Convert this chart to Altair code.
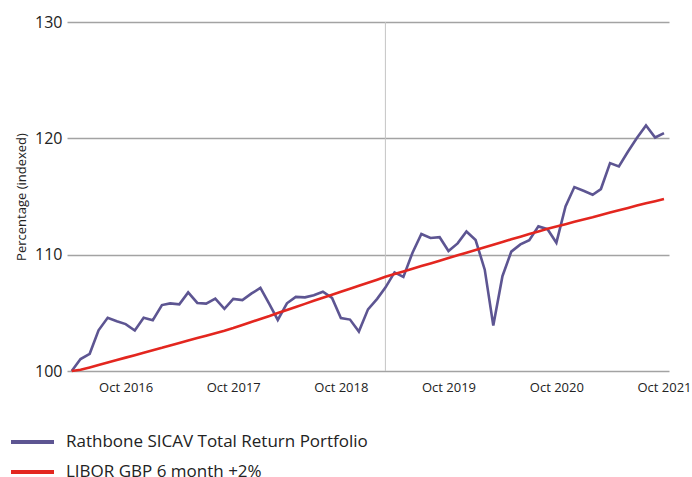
import altair as alt
import pandas as pd

# Monthly dates, Apr 2016 .. Oct 2021
months = pd.date_range("2016-04-01", "2021-10-01", freq="MS").strftime("%Y-%m-%d").tolist()

rathbone = [
    100.00, 101.03, 101.48, 103.50, 104.57, 104.27, 104.03, 103.48, 104.57, 104.36,
    105.67, 105.81, 105.73, 106.76, 105.85, 105.79, 106.22, 105.34, 106.20, 106.09,
    106.65, 107.14, 105.73, 104.39, 105.82, 106.37, 106.33, 106.52, 106.82, 106.28,
    104.55, 104.42, 103.39, 105.30, 106.20, 107.17, 108.48, 108.09, 110.17, 111.78,
    111.43, 111.50, 110.32, 110.97, 111.99, 111.26, 108.71, 103.91, 108.15, 110.26,
    110.88, 111.24, 112.43, 112.19, 111.03, 114.15, 115.81, 115.49, 115.15, 115.64,
    117.87, 117.58, 118.87, 120.02, 121.10, 120.07, 120.45,
]

libor = [
    100.00, 100.10, 100.31, 100.52, 100.73, 100.94, 101.15, 101.36, 101.57, 101.78,
    101.99, 102.20, 102.41, 102.62, 102.83, 103.04, 103.25, 103.46, 103.69, 103.95,
    104.21, 104.47, 104.73, 104.99, 105.25, 105.51, 105.77, 106.03, 106.29, 106.55,
    106.81, 107.07, 107.33, 107.59, 107.85, 108.10, 108.33, 108.56, 108.79, 109.02,
    109.25, 109.48, 109.71, 109.94, 110.17, 110.40, 110.63, 110.86, 111.09, 111.32,
    111.55, 111.78, 112.00, 112.22, 112.42, 112.62, 112.82, 113.02, 113.22, 113.42,
    113.62, 113.82, 114.02, 114.22, 114.42, 114.60, 114.78,
]

series_names = ["Rathbone SICAV Total Return Portfolio", "LIBOR GBP 6 month +2%"]
series_colors = ["#5d5592", "#e3261f"]
marker_dates = ["2019-03-01"]
y_ticks = [100, 110, 120, 130]
x_tick_years = [2016, 2017, 2018, 2019, 2020, 2021]

df = pd.DataFrame({
    "date": months * 2,
    "series": [series_names[0]] * len(months) + [series_names[1]] * len(months),
    "value": rathbone + libor,
    "order": [0] * len(months) + [1] * len(months),
})
marker_df = pd.DataFrame({"date": marker_dates})

x_scale = alt.Scale(
    type="utc",
    domain=[alt.DateTime(year=2016, month=3, date=16, utc=True),
            alt.DateTime(year=2021, month=10, date=18, utc=True)],
)
x_axis = alt.Axis(
    values=[alt.DateTime(year=y, month=10, date=1, utc=True) for y in x_tick_years],
    labelExpr="utcFormat(datum.value, '%b %Y')",
    grid=False, domain=False, ticks=False, labelPadding=10,
    labelFont="Open Sans", labelFontSize=13, labelColor="#222222",
    title=None, labelFlush=False,
)
y_scale = alt.Scale(domain=[100, 130], nice=False, zero=False)
y_axis = alt.Axis(
    values=y_ticks, grid=True, gridColor="#a3a3a3", gridWidth=1.5,
    domain=False, ticks=False, labelPadding=5,
    labelFont="Open Sans", labelFontSize=16, labelColor="#222222",
    title="Percentage (indexed)", titleFont="Open Sans", titleFontSize=13,
    titleFontWeight="normal", titleColor="#222222", titlePadding=6,
)

rule = alt.Chart(marker_df).mark_rule(color="#c4c4c4", strokeWidth=1).encode(
    x=alt.X("date:T", scale=x_scale, axis=x_axis),
)

lines = alt.Chart(df).mark_line(strokeWidth=2.6).encode(
    x=alt.X("date:T", scale=x_scale, axis=x_axis),
    y=alt.Y("value:Q", scale=y_scale, axis=y_axis),
    color=alt.Color(
        "series:N",
        scale=alt.Scale(domain=series_names, range=series_colors),
        legend=alt.Legend(
            orient="none", legendX=-58, legendY=405, direction="vertical",
            title=None, symbolType="stroke", symbolSize=1849, symbolStrokeWidth=4,
            clipHeight=30, rowPadding=0, labelOffset=10, padding=0,
            labelFont="Open Sans", labelFontSize=17, labelColor="#222222",
            labelLimit=500,
        ),
    ),
    order="order:Q",
)

chart = alt.layer(rule, lines).properties(
    width=602, height=349,
    padding={"left": 67, "top": 22, "right": 23, "bottom": 106},
    autosize=alt.AutoSizeParams(type="none"),
).configure_view(stroke=None)

chart.save("out.html", embed_options={"renderer": "svg", "actions": False})
